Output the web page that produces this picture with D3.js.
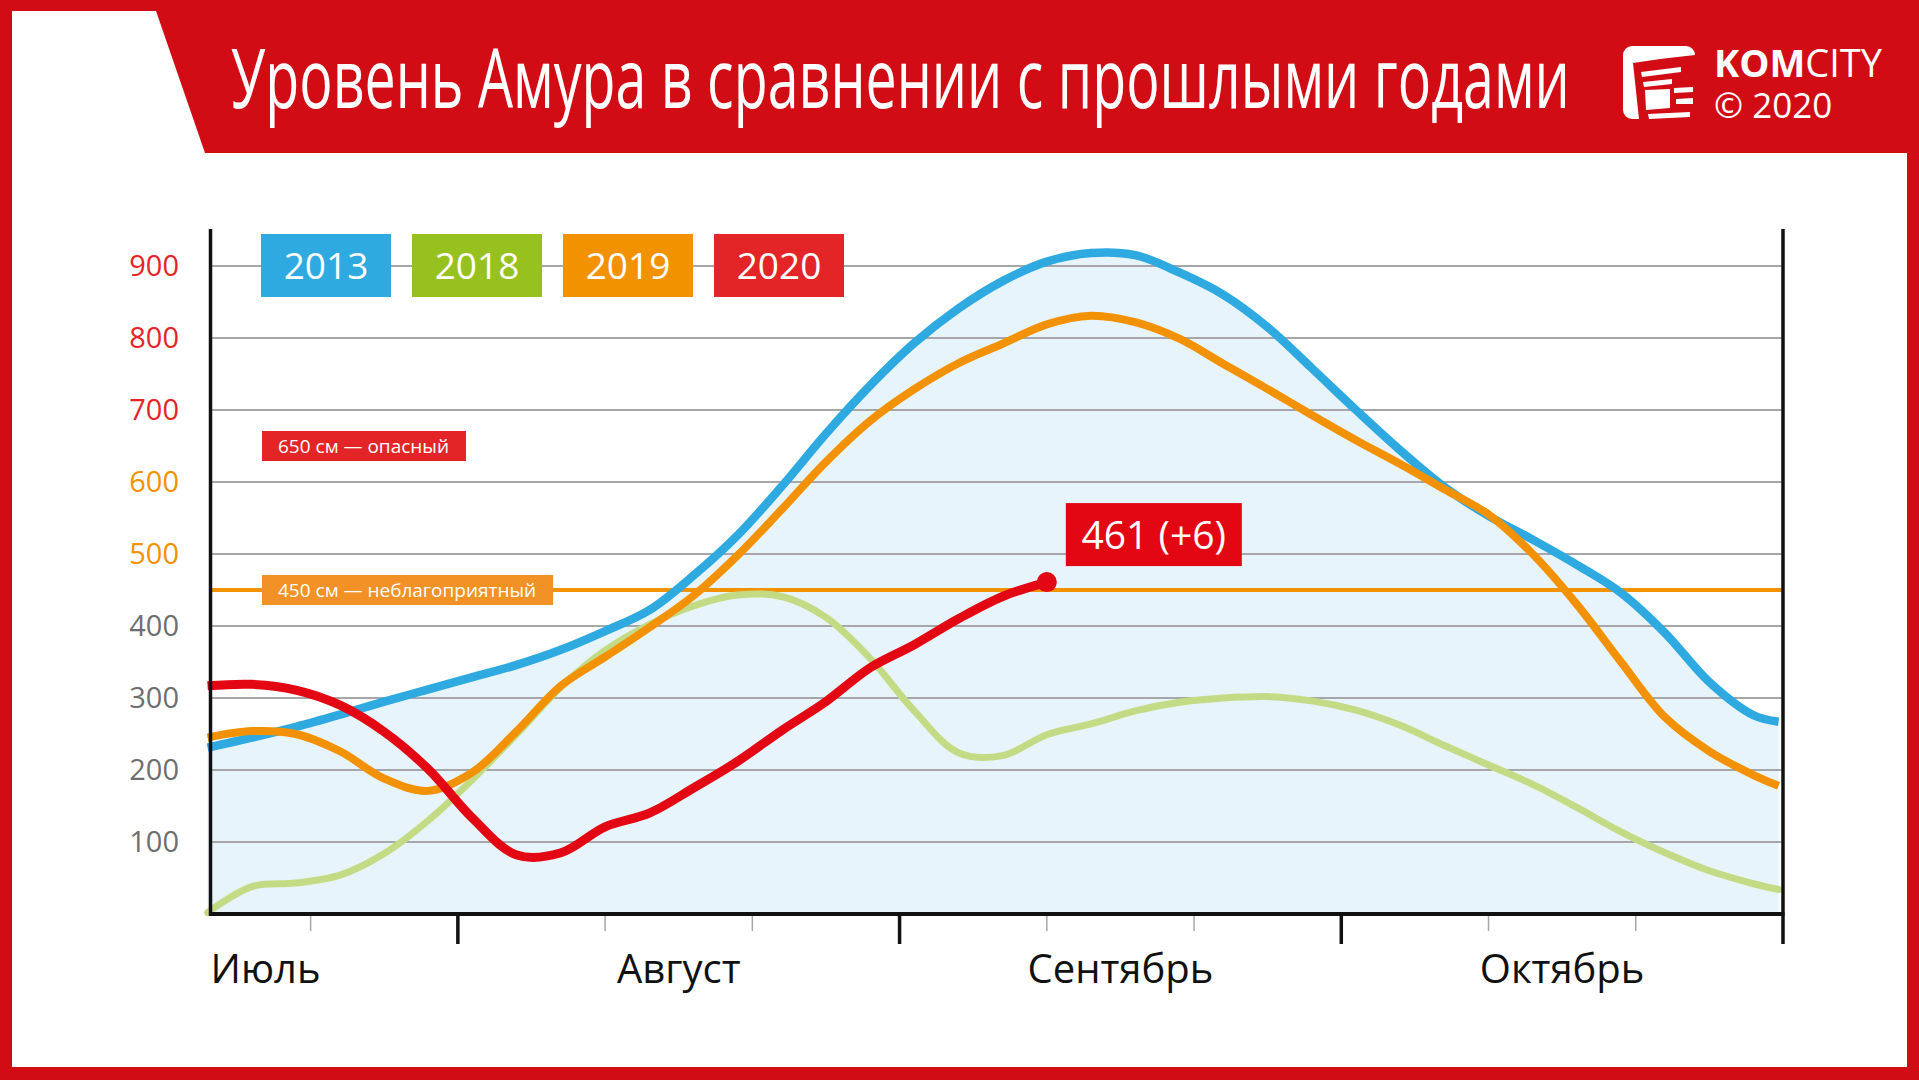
<!DOCTYPE html>
<html>
<head>
<meta charset="utf-8">
<script src="https://cdn.jsdelivr.net/npm/d3@7"></script>
<style>
  body { margin: 0; background: #fff; }
  text { font-family: "Open Sans", "Noto Sans", sans-serif; }
</style>
</head>
<body>
<div id="chart"></div>
<script>
// days counted from 1 July, a month = 30 days on this chart
const days = [13, 16, 19, 22, 25, 28, 31, 34, 37, 40, 43, 46, 49, 52, 55, 58, 61, 64, 67, 70,
              73, 76, 79, 82, 85, 88, 91, 94, 97, 100, 103, 106, 109, 112, 115, 118, 119.7];

const level2013 = [231, 245, 260, 277, 295, 312, 329, 346, 367, 393, 422, 470, 526, 594, 667, 734, 793, 841, 879, 906,
                   918, 915, 891, 860, 815, 758, 700, 644, 593, 553, 520, 485, 446, 390, 322, 276, 267];
const level2018 = [2, 38, 43, 54, 84, 130, 187, 250, 315, 366, 402, 428, 443, 441, 412, 355, 282, 224, 220, 249,
                   264, 282, 294, 300, 302, 296, 283, 262, 234, 207, 180, 148, 114, 85, 60, 42, 34];
const level2019 = [245, 254, 250, 226, 188, 171, 197, 254, 317, 357, 398, 442, 498, 562, 628, 685, 729, 765, 792, 819,
                   831, 822, 799, 764, 729, 693, 658, 625, 590, 555, 500, 430, 350, 273, 226, 193, 178];
const level2020 = [317, 319, 311, 290, 253, 201, 133, 82, 85, 121, 140, 175, 212, 255, 295, 342, 374, 410, 441, 461];
const lastChange = 6;

const years = ["2013", "2018", "2019", "2020"];
const yearColors = ["#2eaae1", "#97c11f", "#f39200", "#e42528"];

const yTicks = [100, 200, 300, 400, 500, 600, 700, 800, 900];
const monthNames = ["Июль", "Август", "Сентябрь", "Октябрь"];
const monthLabelDays = [13.2, 45, 75, 105];
const majorTicks = [30, 60, 90];
const minorTicks = [20, 40, 50, 70, 80, 100, 110];

const thresholds = [450, 650];
const thresholdLabels = ["450 см — неблагоприятный", "650 см — опасный"];

const title = "Уровень Амура в сравнении с прошлыми годами";

var width = 1919;
var height = 1080;
var red = "#d20c14";

let svg = d3.select('#chart')
    .append('svg')
    .attr('width', width)
    .attr('height', height);

// frame + header
svg.append('rect').attr('width', width).attr('height', height).attr('fill', red);
svg.append('rect').attr('x', 12).attr('y', 153).attr('width', 1895).attr('height', 914).attr('fill', '#fff');
svg.append('path').attr('d', 'M 12 11 L 156 11 L 205 153 L 12 153 Z').attr('fill', '#fff');

// title squeezed to a condensed look
let titleText = svg.append('text')
    .text(title)
    .attr('fill', '#fff')
    .attr('font-size', 82);
let tw = titleText.node().getComputedTextLength();
titleText.attr('transform', 'translate(231,108) scale(' + (1339 / tw) + ',1)');

// logo
let logo = svg.append('g');
logo.append('rect').attr('x', 1623).attr('y', 46).attr('width', 72).attr('height', 73).attr('rx', 9).attr('fill', '#fff');
logo.append('path').attr('d', 'M 1633 63 Q 1665 58 1695 55 L 1695 119 L 1639 119 Z').attr('fill', red);
logo.append('path').attr('d', 'M 1641 72 L 1681 67 L 1681 72 L 1642 77 Z').attr('fill', '#fff');
logo.append('path').attr('d', 'M 1643 82 L 1672 79 L 1672 84 L 1644 87 Z').attr('fill', '#fff');
logo.append('path').attr('d', 'M 1645 90 L 1670 89 L 1670 108 L 1646 110 Z').attr('fill', '#fff');
logo.append('path').attr('d', 'M 1674 88 L 1693 87 L 1693 92 L 1674 93 Z').attr('fill', '#fff');
logo.append('path').attr('d', 'M 1676 99 L 1693 98 L 1693 104 L 1676 104 Z').attr('fill', '#fff');
logo.append('path').attr('d', 'M 1648 114 L 1690 112 L 1690 117 L 1649 119 Z').attr('fill', '#fff');

let brand = svg.append('text').attr('x', 1714).attr('y', 77).attr('fill', '#fff').attr('font-size', 38);
brand.append('tspan').text('KOM').attr('font-weight', 'bold');
brand.append('tspan').text('CITY');
svg.append('text').text('© 2020').attr('x', 1714).attr('y', 118).attr('fill', '#fff').attr('font-size', 35);

// scales
let x = d3.scaleLinear().domain([13.2, 120]).range([210.5, 1783]);
let y = d3.scaleLinear().domain([0, 900]).range([914, 266]);

const s2013 = days.map((d, i) => ({ day: d, v: level2013[i] }));
const s2018 = days.map((d, i) => ({ day: d, v: level2018[i] }));
const s2019 = days.map((d, i) => ({ day: d, v: level2019[i] }));
const s2020 = level2020.map((v, i) => ({ day: days[i], v: v }));

const curve = d3.curveCatmullRom.alpha(0.5);

// fill under 2013
let area = d3.area()
    .x(d => x(d.day))
    .y0(y(0))
    .y1(d => y(d.v))
    .curve(curve);

svg.append('path')
    .datum(s2013)
    .attr('d', area)
    .attr('fill', '#e8f4fb');

// grid
svg.append('g').selectAll('line')
    .data(yTicks)
    .join('line')
    .attr('x1', x(13.2)).attr('x2', x(120))
    .attr('y1', d => y(d)).attr('y2', d => y(d))
    .attr('stroke', '#a5a7aa')
    .attr('stroke-width', 2);

function tickColor(v) {
    if (v >= 700) return '#e42528';
    if (v >= 500) return '#f39200';
    return '#6d6e70';
}

svg.append('g').selectAll('text')
    .data(yTicks)
    .join('text')
    .text(d => d)
    .attr('x', 179)
    .attr('y', d => y(d) + 10)
    .attr('text-anchor', 'end')
    .attr('font-size', 29)
    .attr('fill', d => tickColor(d));

// 450 line
svg.append('line')
    .attr('x1', x(13.2)).attr('x2', x(120))
    .attr('y1', y(thresholds[0])).attr('y2', y(thresholds[0]))
    .attr('stroke', '#f39200')
    .attr('stroke-width', 4);

// threshold labels
const thrColors = ['#f29226', '#e42528'];
thresholds.forEach((t, i) => {
    let g = svg.append('g');
    let r = g.append('rect');
    let tx = g.append('text')
        .text(thresholdLabels[i])
        .attr('x', 278)
        .attr('y', y(t) + 7)
        .attr('fill', '#fff')
        .attr('font-size', 19);
    let w = tx.node().getComputedTextLength();
    r.attr('x', 262).attr('y', y(t) - 15)
        .attr('width', w + 33).attr('height', 30)
        .attr('fill', thrColors[i]);
});

// series lines
let line = d3.line()
    .x(d => x(d.day))
    .y(d => y(d.v))
    .curve(curve);

svg.append('path').datum(s2018).attr('d', line)
    .attr('fill', 'none').attr('stroke', '#c4db86').attr('stroke-width', 7).attr('stroke-linecap', 'round');
svg.append('path').datum(s2013).attr('d', line)
    .attr('fill', 'none').attr('stroke', '#2eaae1').attr('stroke-width', 8.5);
svg.append('path').datum(s2019).attr('d', line)
    .attr('fill', 'none').attr('stroke', '#f39200').attr('stroke-width', 8);
svg.append('path').datum(s2020).attr('d', line)
    .attr('fill', 'none').attr('stroke', '#e30613').attr('stroke-width', 9);

// last point
let last = s2020[s2020.length - 1];
svg.append('circle')
    .attr('cx', x(last.day)).attr('cy', y(last.v)).attr('r', 10)
    .attr('fill', '#e30613');
svg.append('rect')
    .attr('x', x(last.day) + 19).attr('y', y(last.v) - 79)
    .attr('width', 176).attr('height', 63)
    .attr('fill', '#e30613');
svg.append('text')
    .text(last.v + ' (+' + lastChange + ')')
    .attr('x', x(last.day) + 19 + 88).attr('y', y(last.v) - 33)
    .attr('text-anchor', 'middle')
    .attr('fill', '#fff')
    .attr('font-size', 39);

// axes frame
svg.append('line').attr('x1', x(13.2)).attr('x2', x(13.2)).attr('y1', 229).attr('y2', y(0) + 2)
    .attr('stroke', '#111').attr('stroke-width', 3.5);
svg.append('line').attr('x1', x(120)).attr('x2', x(120)).attr('y1', 229).attr('y2', 944)
    .attr('stroke', '#111').attr('stroke-width', 3.5);
svg.append('line').attr('x1', x(13.2) - 1.5).attr('x2', x(120) + 1.5).attr('y1', y(0)).attr('y2', y(0))
    .attr('stroke', '#111').attr('stroke-width', 4);

svg.append('g').selectAll('line')
    .data(minorTicks)
    .join('line')
    .attr('x1', d => x(d)).attr('x2', d => x(d))
    .attr('y1', y(0) + 2).attr('y2', 931)
    .attr('stroke', '#a5a7aa').attr('stroke-width', 1.5);

svg.append('g').selectAll('line')
    .data(majorTicks)
    .join('line')
    .attr('x1', d => x(d)).attr('x2', d => x(d))
    .attr('y1', y(0)).attr('y2', 944)
    .attr('stroke', '#111').attr('stroke-width', 3.5);

svg.append('g').selectAll('text')
    .data(monthNames)
    .join('text')
    .text(d => d)
    .attr('x', (d, i) => x(monthLabelDays[i]))
    .attr('y', 983)
    .attr('text-anchor', (d, i) => i === 0 ? 'start' : 'middle')
    .attr('font-size', 40)
    .attr('fill', '#111');

// legend
let legend = svg.append('g').selectAll('g')
    .data(years)
    .join('g')
    .attr('transform', (d, i) => 'translate(' + (261 + i * 151) + ',234)');

legend.append('rect')
    .attr('width', 130).attr('height', 63)
    .attr('fill', (d, i) => yearColors[i]);

legend.append('text')
    .text(d => d)
    .attr('x', 65).attr('y', 45)
    .attr('text-anchor', 'middle')
    .attr('fill', '#fff')
    .attr('font-size', 37);
</script>
</body>
</html>
